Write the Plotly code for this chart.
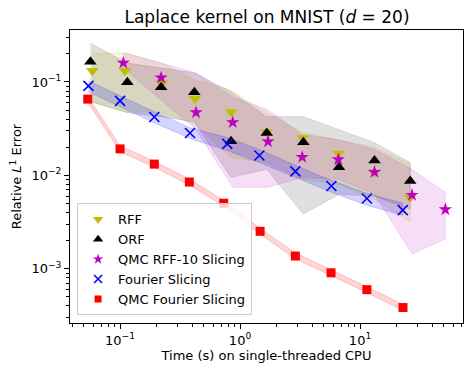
import plotly.graph_objects as go

# timings (s) and relative L1 errors
rff_t = [0.0588, 0.110, 0.223, 0.422, 0.841, 1.67, 3.33, 6.64, 13.2, 26.2]
rff_err = [0.132, 0.132, 0.0969, 0.0659, 0.0476, 0.0289, 0.0252, 0.0171, 0.0108, 0.0058]
rff_hi = [0.204, 0.204, 0.159, 0.105, 0.0822, 0.0468, 0.0287, 0.0241, 0.0199, 0.0131]
rff_lo = [0.0613, 0.048, 0.0468, 0.0349, 0.0155, 0.0137, 0.00906, 0.00802, 0.00556, 0.00316]

orf_t = [0.0566, 0.115, 0.220, 0.416, 0.841, 1.67, 3.37, 6.68, 13.2, 26.2]
orf_err = [0.164, 0.0993, 0.0878, 0.0777, 0.0232, 0.0284, 0.0226, 0.01225, 0.01445, 0.00869]
orf_hi = [0.260, 0.159, 0.141, 0.125, 0.0783, 0.0425, 0.0425, 0.0309, 0.0224, 0.0137]
orf_lo = [0.0613, 0.0468, 0.0425, 0.0375, 0.00953, 0.0116, 0.00385, 0.00628, 0.0060, 0.00435]

qrff_t = [0.1065, 0.220, 0.430, 0.869, 1.71, 3.30, 6.59, 13.2, 27.1, 51.4]
qrff_err = [0.160, 0.111, 0.0471, 0.0369, 0.0230, 0.01567, 0.0148, 0.01084, 0.00616, 0.00431]
qrff_hi = [0.207, 0.159, 0.125, 0.0692, 0.0504, 0.0273, 0.0241, 0.0189, 0.0116, 0.00659]
qrff_lo = [0.141, 0.0644, 0.0309, 0.00745, 0.00745, 0.00953, 0.00906, 0.00628, 0.00144, 0.00208]

fs_t = [0.0545, 0.100, 0.193, 0.383, 0.783, 1.45, 2.89, 5.77, 11.4, 22.7]
fs_err = [0.0907, 0.0628, 0.0421, 0.0284, 0.0217, 0.0163, 0.01104, 0.00769, 0.00565, 0.00425]
fs_hi = [0.1025, 0.0710, 0.048, 0.0324, 0.0254, 0.0189, 0.01277, 0.00885, 0.00644, 0.00504]
fs_lo = [0.0783, 0.0542, 0.0366, 0.0248, 0.01846, 0.0137, 0.00953, 0.00659, 0.0048, 0.00375]

qfs_t = [0.0538, 0.100, 0.193, 0.378, 0.731, 1.47, 2.89, 5.73, 11.4, 22.8]
qfs_err = [0.0655, 0.0192, 0.0132, 0.00849, 0.00503, 0.00252, 0.00137, 0.000906, 0.000598, 0.000385]
qfs_hi = [0.0705, 0.0207, 0.01419, 0.00914, 0.00542, 0.00271, 0.00148, 0.000976, 0.000645, 0.000414]
qfs_lo = [0.0608, 0.01786, 0.01225, 0.00789, 0.00468, 0.00234, 0.00128, 0.000843, 0.000556, 0.000357]

series = [
    # name, t, err, hi, lo, colour, band rgba, symbol, size
    ("RFF", rff_t, rff_err, rff_hi, rff_lo, "#bfbf00", "rgba(191,191,0,0.15)", "triangle-down", 11),
    ("ORF", orf_t, orf_err, orf_hi, orf_lo, "#000000", "rgba(0,0,0,0.12)", "triangle-up", 11),
    ("QMC RFF-10 Slicing", qrff_t, qrff_err, qrff_hi, qrff_lo, "#bf00bf", "rgba(191,0,191,0.13)", "star", 10),
    ("Fourier Slicing", fs_t, fs_err, fs_hi, fs_lo, "#0000ff", "rgba(0,0,255,0.17)", "x-thin", 10),
    ("QMC Fourier Slicing", qfs_t, qfs_err, qfs_hi, qfs_lo, "#ff0000", "rgba(255,0,0,0.17)", "square", 9),
]


def marker(sym, sz, col):
    mk = dict(symbol=sym, size=sz, color=col)
    if sym == "x-thin":
        mk["line"] = dict(color=col, width=1.6)
    else:
        mk["line"] = dict(width=0)
    return mk


fig = go.Figure()

# shaded min/max bands first
for name, t, err, hi, lo, col, band, sym, sz in series:
    fig.add_trace(go.Scatter(
        x=t + t[::-1], y=hi + lo[::-1],
        fill="toself", fillcolor=band, mode="lines",
        line=dict(color=band, width=1),
        hoverinfo="skip", showlegend=False,
    ))

# markers on top
for name, t, err, hi, lo, col, band, sym, sz in series:
    fig.add_trace(go.Scatter(x=t, y=err, mode="markers", name=name,
                             marker=marker(sym, sz, col), showlegend=False))

# legend-only entries with smaller symbols (like matplotlib's legend)
for name, t, err, hi, lo, col, band, sym, sz in series:
    fig.add_trace(go.Scatter(x=[None], y=[None], mode="markers", name=name,
                             marker=marker(sym, sz - 2, col)))

font = "DejaVu Sans, Arial, sans-serif"
axis_common = dict(
    type="log", showgrid=False, zeroline=False,
    showline=True, mirror=True, linecolor="black", linewidth=1,
    ticks="outside", ticklen=5, tickwidth=1, tickcolor="black",
    tickfont=dict(family=font, size=13, color="black"),
    minor=dict(ticks="outside", ticklen=2.8, tickwidth=0.8, tickcolor="black", dtick="D1", showgrid=False),
)

fig.update_xaxes(
    range=[-1.417, 1.858],
    tickvals=[0.1, 1, 10], ticktext=["10<sup>−1</sup>", "10<sup>0</sup>", "10<sup>1</sup>"],
    title=dict(text="Time (s) on single-threaded CPU", font=dict(family=font, size=13, color="black"), standoff=4),
    **axis_common,
)
fig.update_yaxes(
    range=[-3.580, -0.444],
    tickvals=[0.001, 0.01, 0.1], ticktext=["10<sup>−3</sup>", "10<sup>−2</sup>", "10<sup>−1</sup>"],
    title=dict(text="Relative <i>L</i><sup>1</sup> Error", font=dict(family=font, size=13, color="black"), standoff=6),
    **axis_common,
)

# the page body adds an 8px offset, so the figure is 16px smaller than the window
fig.update_layout(
    width=456, height=357,
    margin=dict(l=62, r=1, t=22, b=41.5),
    plot_bgcolor="white", paper_bgcolor="white",
    title=dict(text="Laplace kernel on MNIST (<i>d</i> = 20)", x=0.568, xanchor="center",
               y=0.975, yanchor="middle", font=dict(family=font, size=17, color="black")),
    legend=dict(
        x=0.018, y=0.026, xanchor="left", yanchor="bottom",
        bgcolor="rgba(255,255,255,0.8)", bordercolor="#cccccc", borderwidth=1,
        font=dict(family=font, size=13, color="black"), tracegroupgap=0,
    ),
    showlegend=True,
)

fig.write_html("out.html")
